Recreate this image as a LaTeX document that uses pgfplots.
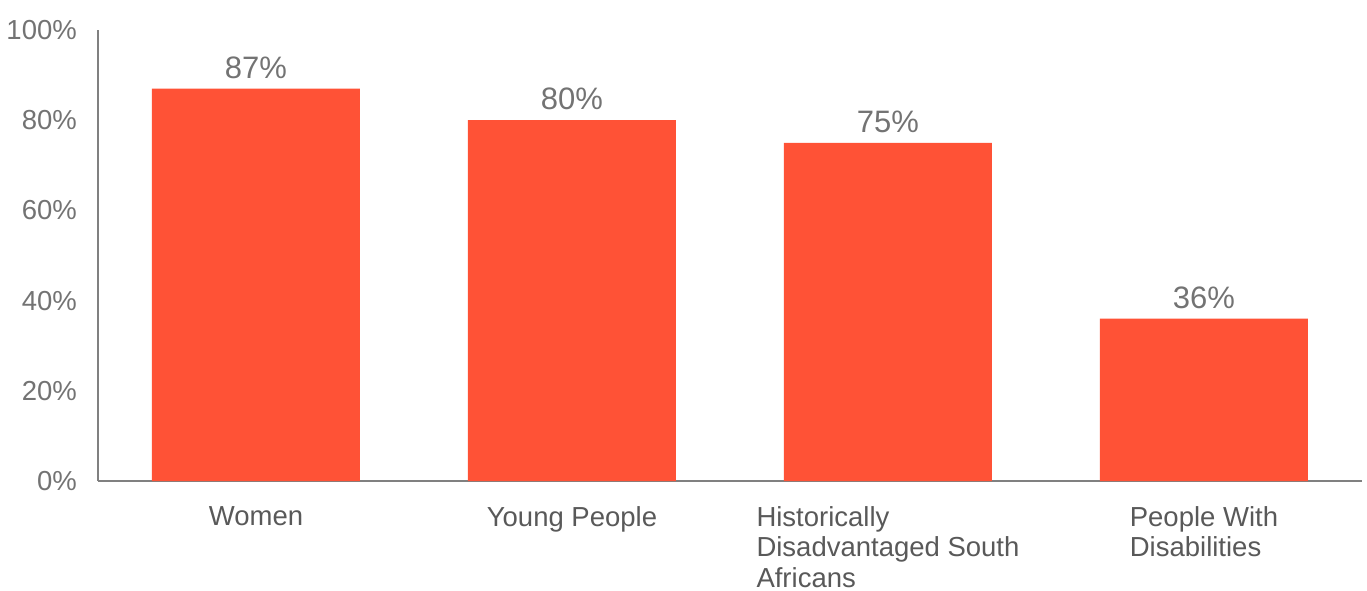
\documentclass[border=0pt]{standalone}
\usepackage{pgfplots}
\pgfplotsset{compat=1.18}
\usepackage{fontspec}
\setmainfont{Liberation Sans}
\definecolor{barc}{HTML}{FF5236}
\definecolor{tickc}{HTML}{737373}
\definecolor{labc}{HTML}{595959}
\definecolor{axc}{HTML}{808080}
\begin{document}
\begin{tikzpicture}
\path[use as bounding box] (-98pt,-109pt) rectangle (1269pt,481pt);
\begin{axis}[
  at={(0pt,0pt)}, anchor=south west,
  scale only axis,
  width=1264pt, height=451pt,
  xmin=-0.5, xmax=3.5,
  ymin=0, ymax=100,
  ybar, bar width=208pt,
  axis x line*=bottom, axis y line*=left,
  axis line style={draw=axc, line width=1.5pt},
  x axis line style={-}, y axis line style={-},
  major tick length=0pt,
  xtick={0,1,2,3},
  xticklabels={Women, Young People, {Historically\\Disadvantaged South\\Africans}, {People With\\Disabilities}},
  xticklabel style={anchor=north, align=left, inner sep=0pt, yshift=-25pt, text=labc,
     font=\fontsize{27.5}{30.8}\selectfont},
  ytick={0,20,40,60,80,100},
  yticklabel={\pgfmathprintnumber{\tick}\%},
  /pgf/number format/assume math mode=true,
  yticklabel style={anchor=east, inner sep=0pt, xshift=-21pt, text=tickc,
     font=\fontsize{27.5}{30.5}\selectfont},
  nodes near coords={\pgfmathprintnumber{\pgfplotspointmeta}\%},
  nodes near coords style={anchor=south, inner sep=0pt, yshift=10pt, text=tickc,
     font=\fontsize{31}{34}\selectfont},
  clip=false,
]
\addplot[fill=barc, draw=none] coordinates {(0,87) (1,80) (2,75) (3,36)};
\end{axis}
\end{tikzpicture}
\end{document}
